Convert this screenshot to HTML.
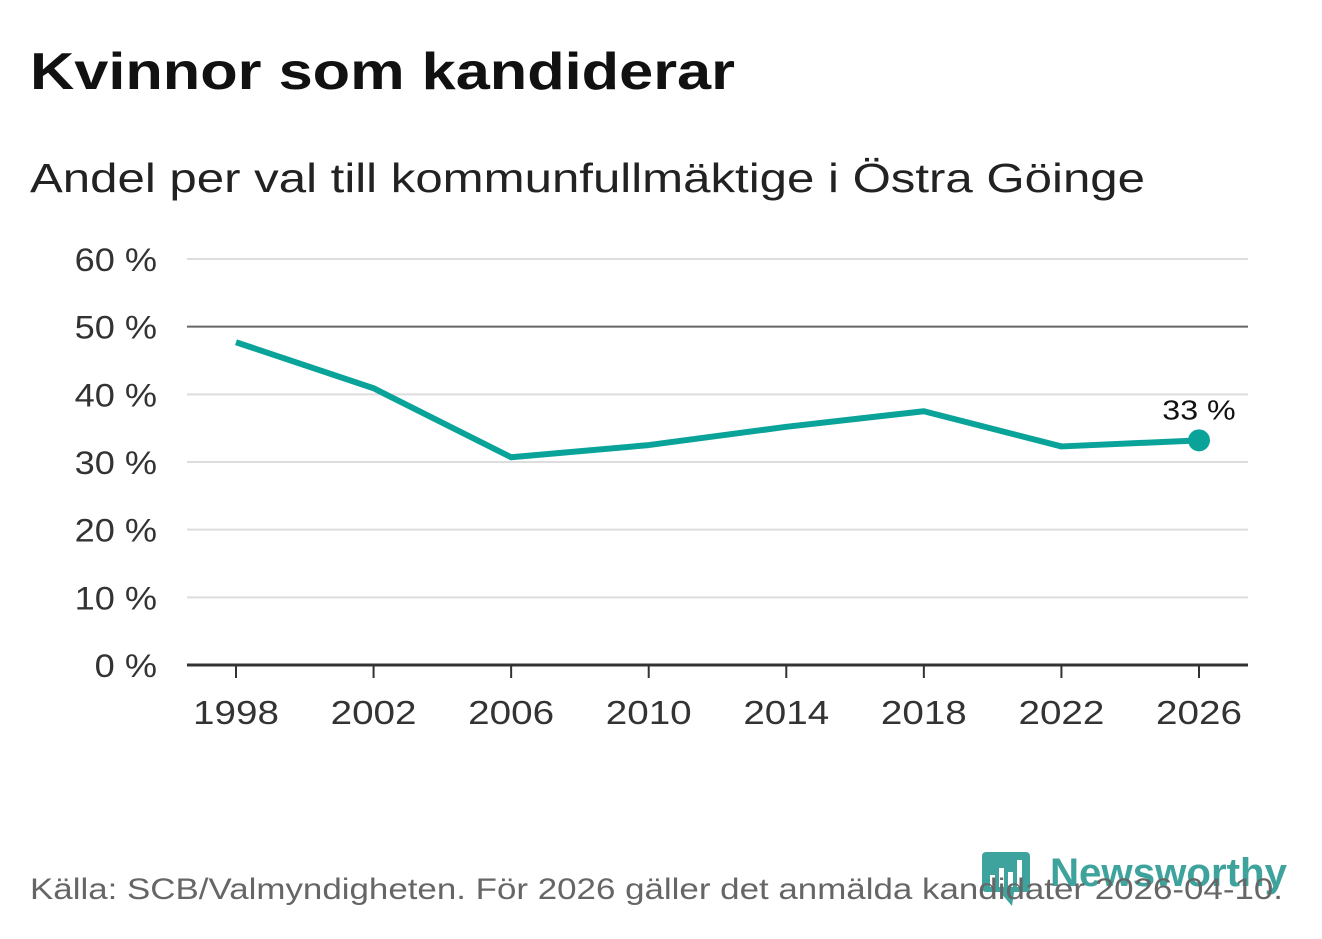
<!DOCTYPE html>
<html><head><meta charset="utf-8"><style>
html,body{margin:0;padding:0;background:#fff;width:1322px;height:939px;overflow:hidden;font-family:"Liberation Sans","DejaVu Sans",sans-serif}
svg{position:absolute;left:0;top:0}
</style></head><body>
<svg width="1322" height="939">
<text x="30" y="89" font-size="52" font-weight="bold" fill="#111" textLength="705" lengthAdjust="spacingAndGlyphs">Kvinnor som kandiderar</text>
<text x="30" y="192" font-size="41" fill="#222" textLength="1115" lengthAdjust="spacingAndGlyphs">Andel per val till kommunfullmäktige i Östra Göinge</text>
<g id="grid"></g>
<g id="yticks"></g>
<g id="xticks"></g>
<g id="series"></g>
<g>
<rect x="982" y="852" width="48" height="40" rx="4" fill="#3ea39c"/>
<path d="M1000 892 L1012 906 L1014 892 Z" fill="#3ea39c"/>
<rect x="990" y="875" width="5" height="12" fill="#fff"/><rect x="999" y="868" width="5" height="19" fill="#fff"/><rect x="1008" y="872" width="5" height="15" fill="#fff"/><rect x="1017" y="860" width="5" height="27" fill="#fff"/>
<text x="1050" y="886" font-size="40" font-weight="bold" fill="#3ea39c" textLength="237" lengthAdjust="spacingAndGlyphs">Newsworthy</text>
</g>
<text x="30" y="899" font-size="30" fill="#666" textLength="1253" lengthAdjust="spacingAndGlyphs">Källa: SCB/Valmyndigheten. För 2026 gäller det anmälda kandidater 2026-04-10.</text>
</svg>
<script>
const years=[1998,2002,2006,2010,2014,2018,2022,2026];
const values=[47.7,40.9,30.7,32.5,35.2,37.5,32.3,33.2];
const yTicks=[0,10,20,30,40,50,60];
const ns="http://www.w3.org/2000/svg";
const X=y=>236+(y-1998)*(1199-236)/28;
const Y=v=>665-v*(665-259)/60;
function mk(t,a,p){const e=document.createElementNS(ns,t);for(const k in a)e.setAttribute(k,a[k]);p.appendChild(e);return e;}
function stretch(t,f){const w=t.getComputedTextLength();t.setAttribute('textLength',w*f);t.setAttribute('lengthAdjust','spacingAndGlyphs');}
const g=document.getElementById('grid'),yt=document.getElementById('yticks'),xt=document.getElementById('xticks'),s=document.getElementById('series');
yTicks.forEach(v=>{
 const l=mk('line',{x1:187,x2:1248,y1:Y(v),y2:Y(v),stroke:v==50?'#666':(v==0?'#333':'#ddd'),'stroke-width':v==0?3:2},g);
 
 
 const t=mk('text',{x:157,y:Y(v)+12,'font-size':32,fill:'#333','text-anchor':'end'},yt);t.textContent=v+' %';
 
 
 stretch(t,1.13);
});
years.forEach(y=>{
 mk('line',{x1:X(y),x2:X(y),y1:665,y2:678,stroke:'#333','stroke-width':2},xt);
 const t=mk('text',{x:X(y),y:724,'font-size':33,fill:'#333','text-anchor':'middle'},xt);t.textContent=y;
 
 
 stretch(t,1.17);
});
const p=mk('polyline',{points:years.map((y,i)=>X(y)+','+Y(values[i])).join(' '),fill:'none',stroke:'#0aa39a','stroke-width':6,'stroke-linejoin':'round'},s);


const n=years.length-1;
const c=mk('circle',{cx:X(years[n]),cy:Y(values[n]),r:11,fill:'#0aa39a'},s);


const lb=mk('text',{x:X(years[n]),y:Y(values[n])-21,'font-size':28,fill:'#111','text-anchor':'middle'},s);
lb.textContent=Math.round(values[n])+' %';


stretch(lb,1.15);
</script>
</body></html>
